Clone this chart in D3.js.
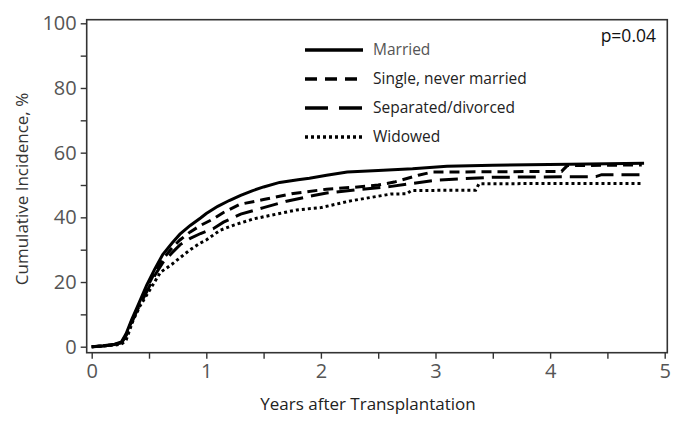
<!DOCTYPE html>
<html><head><meta charset="utf-8">
<script src="https://cdn.jsdelivr.net/npm/d3@7"></script>
<style>
html,body{margin:0;padding:0;background:#fff;}
svg{display:block;font-family:"Open Sans",sans-serif;}
</style></head>
<body><svg id="c" width="687" height="428"></svg>
<script>
const seriesNames = ["Married","Single, never married","Separated/divorced","Widowed"];
const married = [[0,0],[0.1,0.3],[0.2,0.8],[0.26,1.5],[0.3,4],[0.35,8.5],[0.4,12.5],[0.48,19],[0.55,24],[0.62,28.5],[0.7,32],[0.77,34.8],[0.86,37.5],[0.95,39.8],[1.0,41.2],[1.1,43.4],[1.2,45.2],[1.3,46.8],[1.4,48.2],[1.5,49.4],[1.64,50.8],[1.8,51.6],[1.9,52.1],[2.05,53],[2.23,54],[2.5,54.5],[2.8,55],[3.1,55.8],[3.5,56.1],[4.17,56.4],[4.82,56.7]];
const single = [[0,0],[0.1,0.2],[0.2,0.7],[0.26,1.2],[0.3,3.5],[0.35,8],[0.4,12],[0.48,18],[0.55,23],[0.62,27],[0.7,30.5],[0.77,33],[0.86,35.5],[0.95,37.5],[1.06,39.5],[1.15,41.5],[1.29,44],[1.5,45.5],[1.76,47.4],[2.05,48.7],[2.29,49.3],[2.5,50],[2.64,50.9],[2.85,53],[2.97,54],[3.5,54.1],[4.1,54.2],[4.15,56],[4.8,56.2]];
const separated = [[0,0],[0.1,0.2],[0.2,0.7],[0.26,1.2],[0.3,3.5],[0.35,7.5],[0.4,11.5],[0.48,17],[0.55,22],[0.62,26],[0.7,29],[0.77,31.5],[0.86,33.5],[0.95,35],[1.06,36.5],[1.15,38.5],[1.3,41],[1.5,43],[1.7,45],[1.9,46.5],[2.05,47.5],[2.3,48.5],[2.6,49.5],[2.8,50.5],[3.0,51.5],[3.5,52.4],[4.4,52.6],[4.45,53.2],[4.8,53.2]];
const widowed = [[0,0],[0.1,0.2],[0.2,0.5],[0.26,0.8],[0.3,2],[0.36,8],[0.42,12.5],[0.48,16],[0.6,23],[0.7,25.5],[0.77,27.5],[0.86,30],[0.945,32],[1.0,33],[1.12,36],[1.24,37.6],[1.41,39.5],[1.64,41.2],[1.79,42.3],[2.0,43],[2.26,45.1],[2.61,47.2],[2.75,47.3],[2.79,48.3],[3.35,48.4],[3.38,50.4],[4.8,50.5]];
const xTicks = [0,0.5,1,1.5,2,2.5,3,3.5,4,4.5,5];
const xTickLabels = ["0","","1","","2","","3","","4","","5"];
const yTicks = [0,10,20,30,40,50,60,70,80,90,100];
const yTickLabels = ["0","","20","","40","","60","","80","","100"];
const pText = "p=0.04";
const xTitle = "Years after Transplantation";
const yTitle = "Cumulative Incidence, %";

const dashes = [null,"10,6","18,8","3,3"];
const allSeries = [married,single,separated,widowed];

const svg = d3.select("#c");
const x = d3.scaleLinear().domain([0,5]).range([91.7,664.7]);
const y = d3.scaleLinear().domain([0,100]).range([346.7,23.3]);

// frame
svg.append("rect").attr("x",86.7).attr("y",19.7).attr("width",667.3-86.7).attr("height",352.7-19.7)
  .attr("fill","#fff").attr("stroke","#333").attr("stroke-width",1.6);

// y axis
const yAxis = d3.axisLeft(y).tickValues(yTicks).tickSize(6).tickPadding(4)
  .tickFormat((d,i)=>yTickLabels[i]);
const gy = svg.append("g").attr("transform","translate(86.7,0)").call(yAxis);
gy.select(".domain").remove();
gy.selectAll("line").attr("stroke","#333").attr("stroke-width",1.4);
gy.selectAll("text").attr("font-size",20).attr("fill","#555").attr("font-family","'Open Sans',sans-serif");

// x axis
const xAxis = d3.axisBottom(x).tickValues(xTicks).tickSize(6).tickPadding(5)
  .tickFormat((d,i)=>xTickLabels[i]);
const gx = svg.append("g").attr("transform","translate(0,352.7)").call(xAxis);
gx.select(".domain").remove();
gx.selectAll("line").attr("stroke","#333").attr("stroke-width",1.4);
gx.selectAll("text").attr("font-size",20).attr("fill","#555").attr("font-family","'Open Sans',sans-serif");

// titles
svg.append("text").attr("x",368).attr("y",410).attr("text-anchor","middle")
  .attr("font-size",17).attr("fill","#222").text(xTitle);
svg.append("text").attr("transform","translate(28,189) rotate(-90)").attr("text-anchor","middle")
  .attr("font-size",17).attr("fill","#333").text(yTitle);

// curves
const line = d3.line().x(d=>x(d[0])).y(d=>y(d[1]));
allSeries.forEach((s,i)=>{
  svg.append("path").datum(s).attr("d",line).attr("fill","none")
    .attr("stroke","#000").attr("stroke-width",3)
    .attr("stroke-dasharray",dashes[i]);
});

// legend
const legY = [50,79,108,137];
const legendDash = [null,"12,8","23,11","3,3"];
seriesNames.forEach((n,i)=>{
  svg.append("line").attr("x1",305).attr("x2",363).attr("y1",legY[i]).attr("y2",legY[i])
    .attr("stroke","#000").attr("stroke-width",3.4).attr("stroke-dasharray",legendDash[i]);
  svg.append("text").attr("x",373).attr("y",legY[i]).attr("dy","0.35em")
    .attr("font-size",15.5).attr("fill",i===0?"#555":"#222").text(n);
});
svg.append("text").attr("x",656).attr("y",36).attr("dy","0.35em").attr("text-anchor","end")
  .attr("font-size",17.5).attr("fill","#111").text(pText);
</script></body></html>
